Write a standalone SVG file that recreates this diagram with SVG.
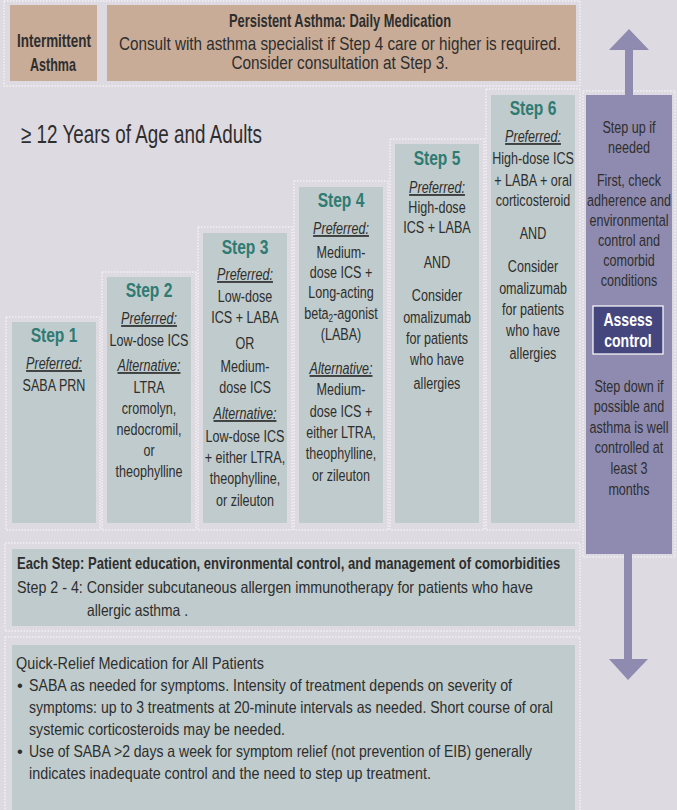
<svg xmlns="http://www.w3.org/2000/svg" width="677" height="810" viewBox="0 0 677 810">
<defs>
<style>
.t{font-family:"Liberation Sans",Arial,sans-serif;font-size:17px;fill:#2e2e2e;text-anchor:middle}
.l{text-anchor:start}
.b{font-weight:bold}
.h{font-family:"Liberation Sans",Arial,sans-serif;font-size:20.5px;font-weight:bold;fill:#2f7b73;text-anchor:middle}
.u{font-style:italic;text-decoration:underline}
.s{font-size:16.5px}
.tan{fill:#c8ac98}
.st{fill:#bfcbcc}
.pu{fill:#8f8bb0}
.dot{fill:none;stroke:#ffffff;stroke-width:1;stroke-dasharray:1.5 1.5;opacity:0.9}
</style>
</defs>
<rect x="0" y="0" width="677" height="810" fill="#dedae2"/>

<g id="outlines">
<rect class="dot" x="4" y="1" width="576" height="85"/>
<rect class="dot" x="6" y="317" width="94" height="213"/>
<rect class="dot" x="102" y="272" width="94" height="258"/>
<rect class="dot" x="198" y="227" width="94" height="303"/>
<rect class="dot" x="294" y="181" width="94" height="349"/>
<rect class="dot" x="390" y="139" width="94" height="391"/>
<rect class="dot" x="486" y="89" width="94" height="441"/>
<rect class="dot" x="583" y="91" width="92" height="466"/>
<rect class="dot" x="5" y="543" width="575" height="88"/>
<rect class="dot" x="5" y="637" width="575" height="180"/>
</g>

<g id="intermittent">
<rect class="tan" x="10" y="5" width="87" height="76"/>
<text class="t b" x="54" y="47" textLength="74" lengthAdjust="spacingAndGlyphs" style="font-size:18.5px">Intermittent</text>
<text class="t b" x="53" y="71" textLength="46" lengthAdjust="spacingAndGlyphs" style="font-size:18.5px">Asthma</text>
</g>

<g id="persistent">
<rect class="tan" x="107" y="5" width="469" height="76"/>
<text class="t b" x="340" y="27" textLength="222" lengthAdjust="spacingAndGlyphs" style="font-size:18.5px">Persistent Asthma: Daily Medication</text>
<text class="t" x="340" y="50" textLength="442" lengthAdjust="spacingAndGlyphs" style="font-size:19px">Consult with asthma specialist if Step 4 care or higher is required.</text>
<text class="t" x="340" y="69" textLength="217" lengthAdjust="spacingAndGlyphs" style="font-size:19px">Consider consultation at Step 3.</text>
</g>

<g id="title">
<text class="t l" x="21" y="143" textLength="241" lengthAdjust="spacingAndGlyphs" style="font-size:25px">≥ 12 Years of Age and Adults</text>
</g>

<g id="step1">
<rect class="st" x="12" y="322" width="84" height="201"/>
<text class="h" transform="translate(54 342) scale(0.76 1)">Step 1</text>
<g transform="translate(54 0) scale(0.74 1)">
<text class="t u" x="0" y="369">Preferred:</text>
<text class="t" x="0" y="391">SABA PRN</text>
</g>
</g>

<g id="step2">
<rect class="st" x="107" y="277" width="84" height="246"/>
<text class="h" transform="translate(149 297) scale(0.76 1)">Step 2</text>
<g transform="translate(149 0) scale(0.74 1)">
<text class="t u" x="0" y="324">Preferred:</text>
<text class="t" x="0" y="346">Low-dose ICS</text>
<text class="t u" x="0" y="371">Alternative:</text>
<text class="t" x="0" y="393">LTRA</text>
<text class="t" x="0" y="414">cromolyn,</text>
<text class="t" x="0" y="435">nedocromil,</text>
<text class="t" x="0" y="456">or</text>
<text class="t" x="0" y="477">theophylline</text>
</g>
</g>

<g id="step3">
<rect class="st" x="203" y="233" width="84" height="290"/>
<text class="h" transform="translate(245 254) scale(0.76 1)">Step 3</text>
<g transform="translate(245 0) scale(0.74 1)">
<text class="t u" x="0" y="280">Preferred:</text>
<text class="t" x="0" y="302">Low-dose</text>
<text class="t" x="0" y="323">ICS + LABA</text>
<text class="t" x="0" y="349">OR</text>
<text class="t" x="0" y="372">Medium-</text>
<text class="t" x="0" y="393">dose ICS</text>
<text class="t u" x="0" y="419">Alternative:</text>
<text class="t" x="0" y="442">Low-dose ICS</text>
<text class="t" x="0" y="463">+ either LTRA,</text>
<text class="t" x="0" y="484">theophylline,</text>
<text class="t" x="0" y="506">or zileuton</text>
</g>
</g>

<g id="step4">
<rect class="st" x="299" y="187" width="84" height="336"/>
<text class="h" transform="translate(341 207) scale(0.76 1)">Step 4</text>
<g transform="translate(341 0) scale(0.74 1)">
<text class="t u" x="0" y="234">Preferred:</text>
<text class="t" x="0" y="258">Medium-</text>
<text class="t" x="0" y="278">dose ICS +</text>
<text class="t" x="0" y="298">Long-acting</text>
<text class="t" x="0" y="319">beta<tspan style="font-size:11px" dy="3">2</tspan><tspan dy="-3">-agonist</tspan></text>
<text class="t" x="0" y="340">(LABA)</text>
<text class="t u" x="0" y="374">Alternative:</text>
<text class="t" x="0" y="395">Medium-</text>
<text class="t" x="0" y="417">dose ICS +</text>
<text class="t" x="0" y="438">either LTRA,</text>
<text class="t" x="0" y="459">theophylline,</text>
<text class="t" x="0" y="481">or zileuton</text>
</g>
</g>

<g id="step5">
<rect class="st" x="395" y="144" width="84" height="379"/>
<text class="h" transform="translate(437 165) scale(0.76 1)">Step 5</text>
<g transform="translate(437 0) scale(0.74 1)">
<text class="t u" x="0" y="193">Preferred:</text>
<text class="t" x="0" y="213">High-dose</text>
<text class="t" x="0" y="233">ICS + LABA</text>
<text class="t" x="0" y="268">AND</text>
<text class="t" x="0" y="301">Consider</text>
<text class="t" x="0" y="323">omalizumab</text>
<text class="t" x="0" y="344">for  patients</text>
<text class="t" x="0" y="365">who have</text>
<text class="t" x="0" y="389">allergies</text>
</g>
</g>

<g id="step6">
<rect class="st" x="491" y="95" width="84" height="428"/>
<text class="h" transform="translate(533 115) scale(0.76 1)">Step 6</text>
<g transform="translate(533 0) scale(0.74 1)">
<text class="t u" x="0" y="142">Preferred:</text>
<text class="t" x="0" y="164">High-dose ICS</text>
<text class="t" x="0" y="186">+ LABA  + oral</text>
<text class="t" x="0" y="206">corticosteroid</text>
<text class="t" x="0" y="239">AND</text>
<text class="t" x="0" y="272">Consider</text>
<text class="t" x="0" y="294">omalizumab</text>
<text class="t" x="0" y="315">for  patients</text>
<text class="t" x="0" y="336">who have</text>
<text class="t" x="0" y="359">allergies</text>
</g>
</g>

<g id="control">
<rect class="pu" x="586" y="95" width="86" height="459"/>
<g transform="translate(629 0) scale(0.74 1)">
<text class="t" x="0" y="133">Step up if</text>
<text class="t" x="0" y="153">needed</text>
<text class="t" x="0" y="186">First, check</text>
<text class="t" x="0" y="206">adherence and</text>
<text class="t" x="0" y="226">environmental</text>
<text class="t" x="0" y="246">control and</text>
<text class="t" x="0" y="266">comorbid</text>
<text class="t" x="0" y="286">conditions</text>
<text class="t" x="0" y="392">Step down if</text>
<text class="t" x="0" y="412">possible and</text>
<text class="t" x="0" y="433">asthma is well</text>
<text class="t" x="0" y="453">controlled at</text>
<text class="t" x="0" y="474">least 3</text>
<text class="t" x="0" y="495">months</text>
</g>
</g>

<g id="assess">
<rect x="593" y="306" width="70" height="48" fill="#46467e" stroke="#ffffff" stroke-width="1.2"/>
<g transform="translate(628 0) scale(0.78 1)">
<text class="t b" x="0" y="326" style="fill:#ffffff;font-size:18px">Assess</text>
<text class="t b" x="0" y="347" style="fill:#ffffff;font-size:18px">control</text>
</g>
</g>

<g id="connectors">
<polygon class="pu" points="629,29 609,50 625,50 625,95 633,95 633,50 649,50"/>
<polygon class="pu" points="624,554 632,554 632,659 648,659 628,680 609,659 624,659"/>
</g>

<g id="eachstep">
<rect class="st" x="12" y="549" width="563" height="77"/>
<text class="t l b s" transform="translate(17 569) scale(0.8 1)" x="0" y="0" textLength="679" lengthAdjust="spacingAndGlyphs">Each Step:  Patient education, environmental control, and management of comorbidities</text>
<text class="t l s" x="17" y="593" textLength="516" lengthAdjust="spacingAndGlyphs">Step 2 - 4:  Consider subcutaneous allergen immunotherapy for patients who have</text>
<text class="t l s" x="87" y="616" textLength="101" lengthAdjust="spacingAndGlyphs">allergic asthma .</text>
</g>

<g id="quickrelief">
<rect class="st" x="12" y="645" width="563" height="170"/>
<text class="t l s" x="16" y="669" textLength="248" lengthAdjust="spacingAndGlyphs">Quick-Relief Medication for All Patients</text>
<text class="t l s" x="17" y="691">•</text>
<text class="t l s" x="29" y="691" textLength="483" lengthAdjust="spacingAndGlyphs">SABA as needed for symptoms. Intensity of treatment depends on severity of</text>
<text class="t l s" x="29" y="713" textLength="524" lengthAdjust="spacingAndGlyphs">symptoms: up to 3 treatments at 20-minute intervals as needed. Short course of oral</text>
<text class="t l s" x="29" y="735" textLength="256" lengthAdjust="spacingAndGlyphs">systemic corticosteroids may be needed.</text>
<text class="t l s" x="17" y="757">•</text>
<text class="t l s" x="29" y="757" textLength="503" lengthAdjust="spacingAndGlyphs">Use of SABA &gt;2 days a week for symptom relief (not prevention of EIB) generally</text>
<text class="t l s" x="29" y="779" textLength="402" lengthAdjust="spacingAndGlyphs">indicates inadequate control and the need to step up treatment.</text>
</g>
</svg>
